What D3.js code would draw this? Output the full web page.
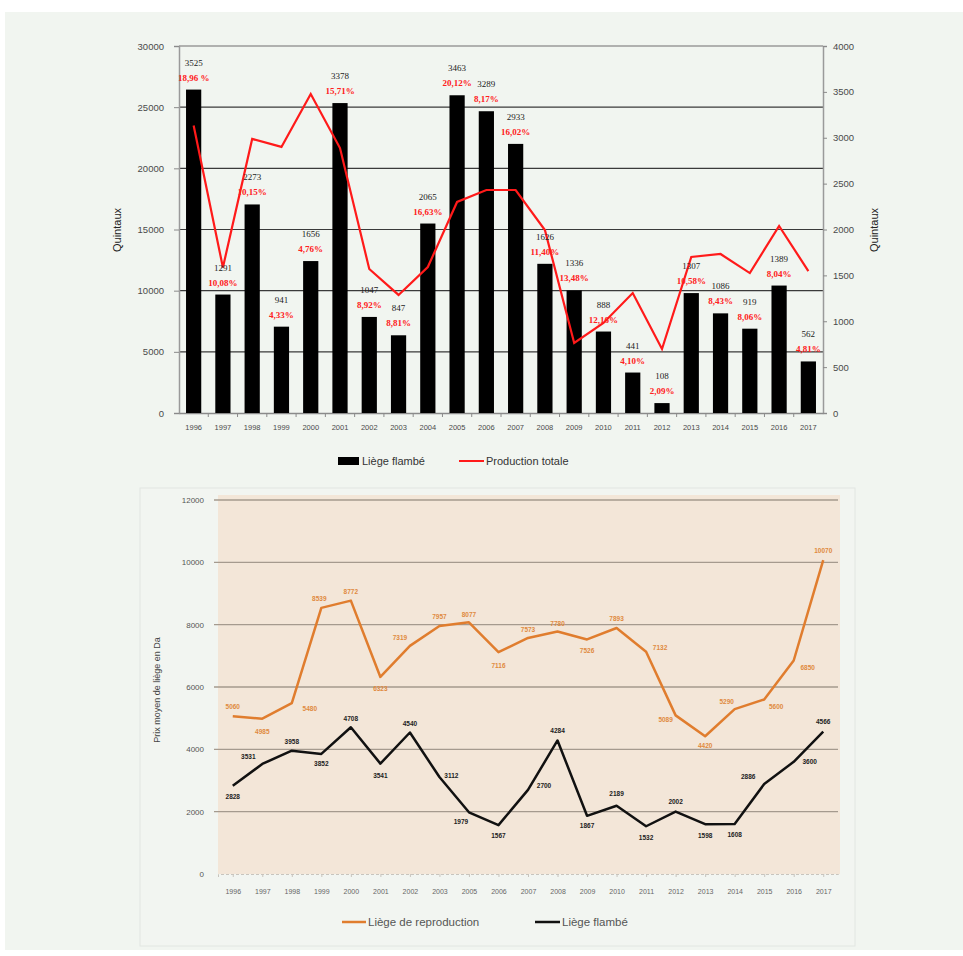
<!DOCTYPE html>
<html><head><meta charset="utf-8">
<script src="https://cdn.jsdelivr.net/npm/d3@7"></script>
<style>body{margin:0;background:#fff}svg{display:block}</style>
</head><body>
<svg id="c" width="963" height="956"></svg>
<script>
// ---- Top chart data ----
const years = ["1996","1997","1998","1999","2000","2001","2002","2003","2004","2005","2006","2007","2008","2009","2010","2011","2012","2013","2014","2015","2016","2017"];
const flambe = [3525,1291,2273,941,1656,3378,1047,847,2065,3463,3289,2933,1626,1336,888,441,108,1307,1086,919,1389,562];
const flambePct = ["18,96 %","10,08%","10,15%","4,33%","4,76%","15,71%","8,92%","8,81%","16,63%","20,12%","8,17%","16,02%","11,40%","13,48%","12,16%","4,10%","2,09%","10,58%","8,43%","8,06%","8,04%","4,81%"];
const production = [23500,11900,22400,21750,26080,21660,11770,9650,11930,17250,18230,18230,14960,5720,7360,9810,5230,12750,13000,11440,15290,11600];
const leftTicks = [0,5000,10000,15000,20000,25000,30000];
const rightTicks = [0,500,1000,1500,2000,2500,3000,3500,4000];

// ---- Bottom chart data ----
const years2 = ["1996","1997","1998","1999","2000","2001","2002","2003","2005","2006","2007","2008","2009","2010","2011","2012","2013","2014","2015","2016","2017"];
const reproduction = [5060,4985,5480,8539,8772,6323,7319,7957,8077,7116,7573,7780,7526,7893,7132,5089,4420,5290,5600,6850,10070];
const flambePrix = [2828,3531,3958,3852,4708,3541,4540,3112,1979,1567,2700,4284,1867,2189,1532,2002,1598,1608,2886,3600,4566];
const priceTicks = [0,2000,4000,6000,8000,10000,12000];
// label offsets (dx,dy) relative to point
const reproOff = [[0,-10],[0,13],[18,5],[-2,-9],[0,-9],[0,12],[-10,-8],[0,-10],[0,-8],[0,13],[0,-8],[0,-8],[0,11],[0,-10],[14,-4],[-10,4],[0,9],[-8,-8],[12,7],[14,7],[0,-10]];
const flambOff = [[0,11],[-14,-7],[0,-9],[0,10],[0,-9],[0,12],[0,-9],[12,-2],[-8,9],[0,10],[16,-4],[0,-10],[0,10],[0,-12],[0,11],[0,-10],[0,11],[0,11],[-16,-8],[16,0],[0,-10]];

const svg = d3.select("#c");
svg.append("rect").attr("x",5).attr("y",12).attr("width",958).attr("height",938).attr("fill","#f1f5f0");

// ================= TOP CHART =================
const x = d3.scaleBand().domain(years).range([179,823]).paddingInner(0.48).paddingOuter(0.24);
const yL = d3.scaleLinear().domain([0,30000]).range([413,46]);
const yR = d3.scaleLinear().domain([0,4000]).range([413,46]);

const gTop = svg.append("g");
gTop.selectAll("line.grid").data(leftTicks.filter(d=>d>0&&d<30000)).join("line")
  .attr("x1",179).attr("x2",823).attr("y1",d=>yL(d)).attr("y2",d=>yL(d))
  .attr("stroke","#3a3a3a").attr("stroke-width",1.2);
gTop.append("line").attr("x1",179).attr("x2",823).attr("y1",yL(30000)).attr("y2",yL(30000)).attr("stroke","#9a9a9a").attr("stroke-width",1.5);

const axL = gTop.append("g").attr("transform","translate(179,0)")
  .call(d3.axisLeft(yL).tickValues(leftTicks).tickSize(5).tickFormat(d3.format("d")));
const axR = gTop.append("g").attr("transform","translate(823,0)")
  .call(d3.axisRight(yR).tickValues(rightTicks).tickSize(4).tickFormat(d3.format("d")));
[axL,axR].forEach(a=>{
  a.select(".domain").attr("stroke","#9a9a9a").attr("stroke-width",1.5);
  a.selectAll(".tick line").attr("stroke","#8a8a8a");
  a.selectAll("text").attr("font-family","Liberation Sans, Arial, sans-serif").attr("font-size",9.5).attr("fill","#4a4a4a");
});
axL.selectAll("text").attr("x",-15);
axR.selectAll("text").attr("x",10);

const axB = gTop.append("g").attr("transform","translate(0,413)")
  .call(d3.axisBottom(x).tickSize(0).tickPadding(12));
axB.select(".domain").attr("stroke","#8a8a8a").attr("stroke-width",1.5);
axB.selectAll("text").attr("font-family","Liberation Sans, Arial, sans-serif").attr("font-size",7.5).attr("fill","#4a4a4a");
gTop.selectAll("line.btick").data(years.slice(0,-1)).join("line")
  .attr("x1",d=>x(d)+x.bandwidth()+x.step()*x.paddingInner()/2)
  .attr("x2",d=>x(d)+x.bandwidth()+x.step()*x.paddingInner()/2)
  .attr("y1",413).attr("y2",417).attr("stroke","#8a8a8a");

gTop.selectAll("rect.bar").data(years).join("rect")
  .attr("x",d=>x(d)).attr("width",x.bandwidth())
  .attr("y",(d,i)=>yR(flambe[i])).attr("height",(d,i)=>413-yR(flambe[i]))
  .attr("fill","#000");

gTop.append("path").datum(production)
  .attr("d",d3.line().x((d,i)=>x(years[i])+x.bandwidth()/2).y(d=>yL(d)))
  .attr("fill","none").attr("stroke","#ff1a1a").attr("stroke-width",2.2);

gTop.selectAll("text.cnt").data(flambe).join("text")
  .attr("x",(d,i)=>x(years[i])+x.bandwidth()/2).attr("y",d=>yR(d)-24)
  .attr("text-anchor","middle").attr("font-family","Liberation Serif, serif").attr("font-size",9).attr("fill","#222")
  .text(d=>d);
gTop.selectAll("text.pct").data(flambePct).join("text")
  .attr("x",(d,i)=>x(years[i])+x.bandwidth()/2).attr("y",(d,i)=>yR(flambe[i])-9)
  .attr("text-anchor","middle").attr("font-family","Liberation Serif, serif").attr("font-weight","bold").attr("font-size",9).attr("fill","#ff2020")
  .text(d=>d);

gTop.append("text").attr("transform","translate(121,230) rotate(-90)").attr("text-anchor","middle")
  .attr("font-family","Liberation Sans, Arial, sans-serif").attr("font-size",11).attr("fill","#222").text("Quintaux");
gTop.append("text").attr("transform","translate(878,230) rotate(-90)").attr("text-anchor","middle")
  .attr("font-family","Liberation Sans, Arial, sans-serif").attr("font-size",11).attr("fill","#222").text("Quintaux");

gTop.append("rect").attr("x",338).attr("y",457).attr("width",21).attr("height",8).attr("fill","#000");
gTop.append("text").attr("x",362).attr("y",465).attr("font-family","Liberation Sans, Arial, sans-serif").attr("font-size",11).attr("fill","#333").text("Liège flambé");
gTop.append("line").attr("x1",459).attr("x2",484).attr("y1",461).attr("y2",461).attr("stroke","#ff1a1a").attr("stroke-width",2);
gTop.append("text").attr("x",486).attr("y",465).attr("font-family","Liberation Sans, Arial, sans-serif").attr("font-size",11).attr("fill","#333").text("Production totale");

// ================= BOTTOM CHART =================
const gBot = svg.append("g");
gBot.append("rect").attr("x",140).attr("y",488).attr("width",715).attr("height",458).attr("fill","#f2f5f1").attr("stroke","#e2e6e1");
const x2 = d3.scalePoint().domain(years2).range([218,838]).padding(0.5);
const y2 = d3.scaleLinear().domain([0,12000]).range([874,500]);
gBot.append("rect").attr("x",218).attr("y",495).attr("width",622).attr("height",379).attr("fill","#f3e6d8");

gBot.selectAll("line.g2").data(priceTicks.filter(d=>d>0)).join("line")
  .attr("x1",214).attr("x2",838).attr("y1",d=>y2(d)).attr("y2",d=>y2(d))
  .attr("stroke","#a59a8e").attr("stroke-width",1.3);

const axL2 = gBot.append("g").attr("transform","translate(218,0)")
  .call(d3.axisLeft(y2).tickValues(priceTicks).tickSize(0).tickPadding(14).tickFormat(d3.format("d")));
axL2.select(".domain").remove();
axL2.selectAll("text").attr("font-family","Liberation Sans, Arial, sans-serif").attr("font-size",8).attr("fill","#555");

const axB2 = gBot.append("g").attr("transform","translate(0,874)")
  .call(d3.axisBottom(x2).tickSize(3).tickPadding(12));
axB2.select(".domain").attr("stroke","#c8c4bd").attr("stroke-dasharray","3,2");
axB2.selectAll(".tick line").attr("stroke","#c8c4bd");
axB2.selectAll("text").attr("font-family","Liberation Sans, Arial, sans-serif").attr("font-size",7).attr("fill","#666");

const line2 = d3.line().x((d,i)=>x2(years2[i])).y(d=>y2(d));
gBot.append("path").datum(reproduction).attr("d",line2).attr("fill","none").attr("stroke","#e07d2e").attr("stroke-width",2.5).attr("stroke-linejoin","round");
gBot.append("path").datum(flambePrix).attr("d",line2).attr("fill","none").attr("stroke","#111").attr("stroke-width",2.5).attr("stroke-linejoin","round");

gBot.selectAll("text.rl").data(reproduction).join("text")
  .attr("x",(d,i)=>x2(years2[i])+reproOff[i][0]).attr("y",(d,i)=>y2(d)+reproOff[i][1]+2.5)
  .attr("text-anchor","middle").attr("font-family","Liberation Sans, Arial, sans-serif").attr("font-size",6.5).attr("font-weight","bold").attr("fill","#e08a40")
  .text(d=>d);
gBot.selectAll("text.fl").data(flambePrix).join("text")
  .attr("x",(d,i)=>x2(years2[i])+flambOff[i][0]).attr("y",(d,i)=>y2(d)+flambOff[i][1]+2.5)
  .attr("text-anchor","middle").attr("font-family","Liberation Sans, Arial, sans-serif").attr("font-size",6.5).attr("font-weight","bold").attr("fill","#222")
  .text(d=>d);

gBot.append("text").attr("transform","translate(160,690) rotate(-90)").attr("text-anchor","middle")
  .attr("font-family","Liberation Sans, Arial, sans-serif").attr("font-size",9).attr("fill","#444").text("Prix moyen de liège en Da");

gBot.append("line").attr("x1",342).attr("x2",366).attr("y1",922).attr("y2",922).attr("stroke","#e07d2e").attr("stroke-width",2.5);
gBot.append("text").attr("x",368).attr("y",926).attr("font-family","Liberation Sans, Arial, sans-serif").attr("font-size",11.5).attr("fill","#555").text("Liège de reproduction");
gBot.append("line").attr("x1",535).attr("x2",560).attr("y1",922).attr("y2",922).attr("stroke","#111").attr("stroke-width",2.5);
gBot.append("text").attr("x",562).attr("y",926).attr("font-family","Liberation Sans, Arial, sans-serif").attr("font-size",11.5).attr("fill","#555").text("Liège flambé");
</script>
</body></html>
